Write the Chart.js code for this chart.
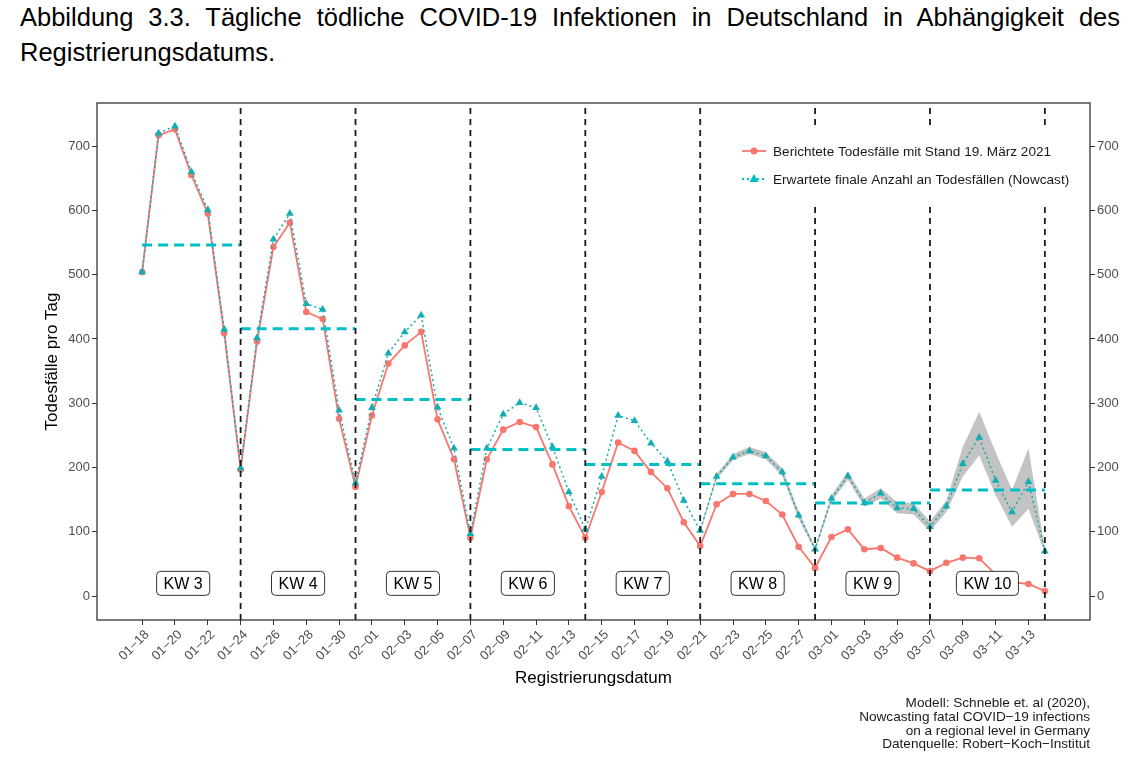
<!DOCTYPE html>
<html>
<head>
<meta charset="utf-8">
<script src="https://cdn.jsdelivr.net/npm/chart.js@4/dist/chart.umd.min.js"></script>
<style>
  body { margin: 0; background: #fff; }
  #wrap { position: relative; width: 1131px; height: 766px; }
  #title {
    position: absolute; left: 20px; top: 0; width: 1100px;
    font: 25.5px "Liberation Sans", Arial, sans-serif; line-height: 35px;
    text-align: justify; color: #000;
  }
  canvas { position: absolute; left: 0; top: 0; }
</style>
</head>
<body>
<div id="wrap">
  <div id="title">Abbildung 3.3. Tägliche tödliche COVID-19 Infektionen in Deutschland in Abhängigkeit des Registrierungsdatums.</div>
  <canvas id="chart" width="1131" height="766"></canvas>
</div>
<script>
// day 0 = 18. Januar 2021, day 55 = 14. März 2021
const tickLabels = ["01-18", "01-20", "01-22", "01-24", "01-26", "01-28", "01-30",
  "02-01", "02-03", "02-05", "02-07", "02-09", "02-11", "02-13", "02-15", "02-17",
  "02-19", "02-21", "02-23", "02-25", "02-27", "03-01", "03-03", "03-05", "03-07",
  "03-09", "03-11", "03-13"];
const yTicks = [0, 100, 200, 300, 400, 500, 600, 700];

// Berichtete Todesfälle (Stand 19. März 2021), one value per day
const reported = [504, 717, 726, 655, 595, 409, 197, 396, 543, 581, 442, 431, 276, 170,
  281, 362, 390, 411, 275, 213, 91, 213, 259, 271, 263, 205, 140, 91,
  162, 239, 226, 193, 168, 115, 78, 143, 159, 159, 148, 127, 77, 44,
  92, 104, 73, 75, 60, 51, 39, 52, 60, 59, 34, 22, 19, 8];

// Nowcast
const nowcast = [504, 720, 731, 660, 601, 415, 199, 402, 555, 595, 455, 446, 289, 176,
  293, 378, 411, 437, 294, 230, 97, 230, 283, 301, 293, 232, 162, 104,
  186, 281, 273, 238, 210, 149, 102, 186, 216, 226, 218, 193, 126, 73,
  152, 187, 145, 160, 137, 136, 108, 140, 206, 247, 180, 131, 178, 70];

// Unsicherheitsband des Nowcasts, ab 02-21 (day 34)
const bandStart = 34;
const bandLow = [99, 182, 212, 221, 213, 187, 120, 70, 147, 181, 139, 152, 129, 127,
  101, 131, 186, 219, 157, 108, 136, 67];
const bandHigh = [105, 190, 221, 232, 224, 199, 132, 77, 157, 194, 152, 168, 146, 145,
  116, 149, 232, 287, 224, 165, 230, 74];

// Wochen
const weekLabels = ["KW 3", "KW 4", "KW 5", "KW 6", "KW 7", "KW 8", "KW 9", "KW 10"];
const weekEnds = [6, 13, 20, 27, 34, 41, 48, 55];     // Sonntage
const weekStarts = [0, 6, 13, 20, 27, 34, 41, 48];
const weekMeans = [546, 416, 306, 228, 205, 175, 145, 165];

const RED = "#F8766D";
const TEAL = "#00BFC4";
const FONT = '"Liberation Sans", Arial, sans-serif';

const toXY = (arr, start = 0) => arr.map((v, i) => ({ x: start + i, y: v }));

const meanSegments = [];
weekMeans.forEach((m, i) => {
  meanSegments.push({ x: weekStarts[i], y: m }, { x: weekEnds[i], y: m }, { x: weekEnds[i], y: null });
});

function triangle(ctx, cx, cy, r) {
  ctx.beginPath();
  ctx.moveTo(cx, cy - r);
  ctx.lineTo(cx + r * 0.9, cy + r * 0.6);
  ctx.lineTo(cx - r * 0.9, cy + r * 0.6);
  ctx.closePath();
  ctx.fill();
}

function roundRect(ctx, x, y, w, h, r) {
  ctx.beginPath();
  ctx.moveTo(x + r, y);
  ctx.arcTo(x + w, y, x + w, y + h, r);
  ctx.arcTo(x + w, y + h, x, y + h, r);
  ctx.arcTo(x, y + h, x, y, r);
  ctx.arcTo(x, y, x + w, y, r);
  ctx.closePath();
}

const annotations = {
  id: "annotations",
  afterDatasetsDraw(chart) {
    const { ctx, chartArea: a, scales: { x, y } } = chart;
    ctx.save();

    // Wochengrenzen
    ctx.strokeStyle = "#1a1a1a";
    ctx.lineWidth = 1.8;
    ctx.setLineDash([6, 5]);
    weekEnds.forEach(d => {
      const px = x.getPixelForValue(d);
      ctx.beginPath();
      ctx.moveTo(px, a.bottom);
      ctx.lineTo(px, a.top);
      ctx.stroke();
    });
    ctx.setLineDash([]);

    // KW-Labels
    ctx.font = "16px " + FONT;
    ctx.textAlign = "center";
    ctx.textBaseline = "middle";
    weekLabels.forEach((lab, i) => {
      const cx = x.getPixelForValue((weekEnds[i] - 7 + weekEnds[i]) / 2);
      const cy = y.getPixelForValue(20);
      const w = ctx.measureText(lab).width + 14;
      roundRect(ctx, cx - w / 2, cy - 12, w, 24, 4);
      ctx.fillStyle = "#fff";
      ctx.fill();
      ctx.strokeStyle = "#333";
      ctx.lineWidth = 1;
      ctx.stroke();
      ctx.fillStyle = "#000";
      ctx.fillText(lab, cx, cy + 1);
    });

    // Legende
    const lx = a.right - 355, ly = a.top + 27;
    ctx.fillStyle = "#fff";
    ctx.fillRect(lx, ly, 335, 72);
    ctx.font = "13.6px " + FONT;
    ctx.textAlign = "left";
    // Zeile 1
    ctx.strokeStyle = RED;
    ctx.lineWidth = 1.8;
    ctx.beginPath(); ctx.moveTo(lx + 7, ly + 21); ctx.lineTo(lx + 31, ly + 21); ctx.stroke();
    ctx.fillStyle = RED;
    ctx.beginPath(); ctx.arc(lx + 19, ly + 21, 3.5, 0, Math.PI * 2); ctx.fill();
    ctx.fillStyle = "#1a1a1a";
    ctx.fillText("Berichtete Todesfälle mit Stand 19. März 2021", lx + 38, ly + 22);
    // Zeile 2
    ctx.strokeStyle = TEAL;
    ctx.setLineDash([2, 3]);
    ctx.beginPath(); ctx.moveTo(lx + 7, ly + 49); ctx.lineTo(lx + 31, ly + 49); ctx.stroke();
    ctx.setLineDash([]);
    ctx.fillStyle = TEAL;
    triangle(ctx, lx + 19, ly + 49, 5);
    ctx.fillStyle = "#1a1a1a";
    ctx.fillText("Erwartete finale Anzahl an Todesfällen (Nowcast)", lx + 38, ly + 50);

    // Rahmen
    ctx.strokeStyle = "#333";
    ctx.lineWidth = 1.3;
    ctx.strokeRect(a.left, a.top, a.right - a.left, a.bottom - a.top);
    ctx.restore();
  },
  afterDraw(chart) {
    const { ctx, chartArea: a } = chart;
    ctx.save();
    ctx.fillStyle = "#000";
    ctx.font = "17px " + FONT;
    ctx.textAlign = "center";
    ctx.textBaseline = "middle";
    ctx.fillText("Registrierungsdatum", (a.left + a.right) / 2, 678);
    ctx.translate(52, (a.top + a.bottom) / 2);
    ctx.rotate(-Math.PI / 2);
    ctx.fillText("Todesfälle pro Tag", 0, 0);
    ctx.restore();

    ctx.save();
    ctx.font = "13.6px " + FONT;
    ctx.fillStyle = "#1a1a1a";
    ctx.textAlign = "right";
    ctx.textBaseline = "middle";
    ["Modell: Schneble et. al (2020),",
     "Nowcasting fatal COVID\u221219 infections",
     "on a regional level in Germany",
     "Datenquelle: Robert\u2212Koch\u2212Institut"].forEach((t, i) => {
      ctx.fillText(t, a.right, 703 + i * 13.9);
    });
    ctx.restore();
  }
};

const yAxis = (pos, width) => ({
  type: "linear",
  position: pos,
  min: -37,
  max: 767,
  afterBuildTicks: s => { s.ticks = yTicks.map(v => ({ value: v })); },
  afterFit: s => { s.width = width; },
  ticks: { color: "#4d4d4d", font: { family: FONT, size: 13 }, padding: 2 },
  grid: { drawOnChartArea: false, drawTicks: true, tickLength: 5, color: "#333", lineWidth: 1 },
  border: { display: false }
});

new Chart(document.getElementById("chart"), {
  type: "line",
  data: {
    datasets: [
      {
        data: meanSegments, borderColor: TEAL, borderWidth: 3, borderDash: [10, 6],
        pointRadius: 0, spanGaps: false, order: 1
      },
      {
        data: toXY(nowcast), borderColor: "#14A9AE", borderWidth: 1.5, borderDash: [2, 3],
        pointStyle: "triangle", pointRadius: 4.5, pointBackgroundColor: "#14ADB2",
        pointBorderWidth: 0, order: 2
      },
      {
        data: toXY(reported), borderColor: RED, borderWidth: 1.8,
        pointRadius: 3.3, pointBackgroundColor: RED, pointBorderWidth: 0, order: 3
      },
      {
        data: toXY(bandHigh, bandStart), borderWidth: 0, pointRadius: 0,
        backgroundColor: "rgba(185,185,185,0.85)", fill: "+1", order: 4
      },
      {
        data: toXY(bandLow, bandStart), borderWidth: 0, pointRadius: 0, order: 5
      }
    ]
  },
  options: {
    responsive: false,
    animation: false,
    layout: { padding: { top: 103, left: 0, right: 0, bottom: 0 } },
    plugins: { legend: { display: false }, tooltip: { enabled: false } },
    scales: {
      x: {
        type: "linear",
        min: -2.75,
        max: 57.75,
        afterBuildTicks: s => { s.ticks = tickLabels.map((_, i) => ({ value: i * 2 })); },
        afterFit: s => { s.height = 146; },
        ticks: {
          color: "#4d4d4d", font: { family: FONT, size: 13 }, padding: 2, labelOffset: 5,
          maxRotation: 45, minRotation: 45, autoSkip: false,
          callback: v => tickLabels[v / 2].replace("-", "\u2212")
        },
        grid: { drawOnChartArea: false, drawTicks: true, tickLength: 5, color: "#333" },
        border: { display: false }
      },
      y: yAxis("left", 97),
      y2: yAxis("right", 41)
    }
  },
  plugins: [annotations]
});
</script>
</body>
</html>
